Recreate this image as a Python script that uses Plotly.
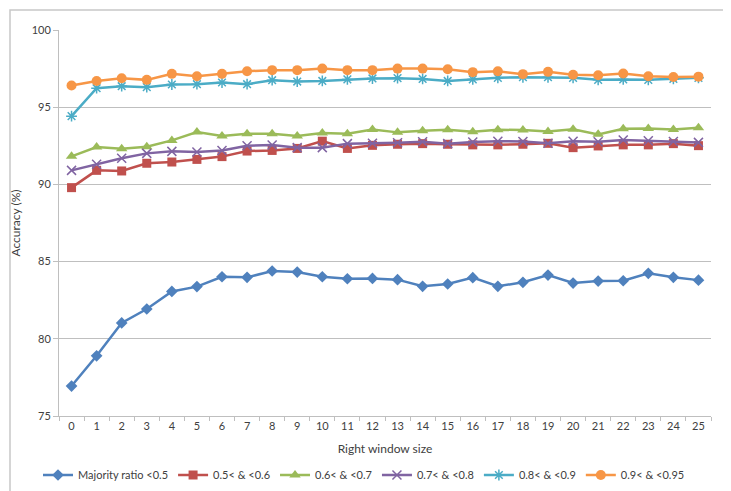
import plotly.graph_objects as go

window_sizes = [str(i) for i in range(26)]

majority_lt_05 = [76.94, 78.90, 81.03, 81.93, 83.07, 83.38, 84.02, 83.98, 84.39, 84.32,
                  84.02, 83.89, 83.91, 83.83, 83.40, 83.55, 83.96, 83.40, 83.66, 84.13,
                  83.61, 83.74, 83.76, 84.24, 83.98, 83.80]
r05_06 = [89.79, 90.91, 90.87, 91.37, 91.45, 91.62, 91.80, 92.16, 92.20, 92.33,
          92.80, 92.33, 92.53, 92.60, 92.64, 92.60, 92.56, 92.56, 92.60, 92.66,
          92.38, 92.49, 92.56, 92.56, 92.64, 92.51]
r06_07 = [91.82, 92.42, 92.31, 92.44, 92.85, 93.39, 93.13, 93.28, 93.28, 93.13,
          93.33, 93.28, 93.56, 93.37, 93.48, 93.54, 93.41, 93.54, 93.52, 93.43,
          93.57, 93.24, 93.60, 93.62, 93.56, 93.67]
r07_08 = [90.91, 91.30, 91.69, 92.01, 92.14, 92.10, 92.20, 92.50, 92.55, 92.38,
          92.38, 92.64, 92.66, 92.70, 92.76, 92.64, 92.74, 92.80, 92.78, 92.66,
          92.80, 92.76, 92.87, 92.83, 92.78, 92.72]
r08_09 = [94.42, 96.23, 96.36, 96.30, 96.47, 96.49, 96.60, 96.49, 96.75, 96.66,
          96.70, 96.80, 96.86, 96.88, 96.83, 96.70, 96.80, 96.90, 96.94, 96.94,
          96.90, 96.77, 96.80, 96.77, 96.83, 96.90]
r09_095 = [96.40, 96.70, 96.88, 96.77, 97.16, 97.00, 97.16, 97.33, 97.40, 97.40,
           97.50, 97.40, 97.40, 97.50, 97.50, 97.46, 97.27, 97.33, 97.14, 97.29,
           97.10, 97.07, 97.18, 97.00, 96.96, 96.98]

series_names = ["Majority ratio <0.5", "0.5< & <0.6", "0.6< & <0.7",
                "0.7< & <0.8", "0.8< & <0.9", "0.9< & <0.95"]
series_values = [majority_lt_05, r05_06, r06_07, r07_08, r08_09, r09_095]
colors = ["#4F81BD", "#C0504D", "#9BBB59", "#8064A2", "#4BACC6", "#F79646"]
symbols = ["diamond", "square", "triangle-up", "x-thin-open", "asterisk-open", "circle"]
sizes = [9, 9, 10, 9, 9, 10]

fig = go.Figure()
for name, vals, c, s, sz in zip(series_names, series_values, colors, symbols, sizes):
    marker = dict(symbol=s, size=sz, color=c)
    if s.endswith("open"):
        marker["line"] = dict(color=c, width=1.5)
    fig.add_trace(go.Scatter(x=window_sizes, y=vals, name=name, mode="lines+markers",
                             line=dict(color=c, width=2.5), marker=marker))

W, H = 731, 491
ml, mr, mt, mb = 51, 28, 22, 83
pw, ph = W - ml - mr, H - mt - mb

def px_x(x):
    return (x - ml) / pw

def px_y(y):
    return (H - mb - y) / ph

font_color = "#404040"
fam = "Lato, Liberation Sans, Arial"
fig.update_layout(
    width=W, height=H,
    margin=dict(l=ml, r=mr, t=mt, b=mb, autoexpand=False),
    paper_bgcolor="white", plot_bgcolor="white",
    font=dict(family=fam, size=11, color=font_color),
    showlegend=True,
    legend=dict(orientation="h", x=px_x(356), xanchor="center", y=px_y(467), yanchor="middle",
                font=dict(family=fam, size=11, color=font_color), itemwidth=30, tracegroupgap=0,
                bgcolor="rgba(0,0,0,0)"),
    xaxis=dict(type="category", showgrid=False, showline=True, linecolor="#BFBFBF", linewidth=1,
               ticks="outside", tickson="boundaries", ticklen=4, tickcolor="#BFBFBF",
               ticklabelstandoff=0,
               tickfont=dict(family=fam, size=11, color=font_color),
               title=dict(text="Right window size", font=dict(family=fam, size=12, color=font_color), standoff=13),
               range=[-0.5, 25.5], zeroline=False),
    yaxis=dict(range=[75, 100], dtick=5, showgrid=True, gridcolor="#BFBFBF", gridwidth=1,
               showline=True, linecolor="#BFBFBF", linewidth=1,
               ticks="outside", ticklen=5, tickcolor="#BFBFBF",
               tickfont=dict(family=fam, size=11, color=font_color),
               title=dict(text="Accuracy (%)", font=dict(family=fam, size=12, color=font_color), standoff=16),
               zeroline=False),
    shapes=[dict(type="rect", xref="paper", yref="paper",
                 x0=px_x(2), x1=px_x(728), y0=px_y(488), y1=px_y(2),
                 line=dict(color="#C8C8C8", width=1.5), layer="below")],
)

fig.write_html("out.html")
